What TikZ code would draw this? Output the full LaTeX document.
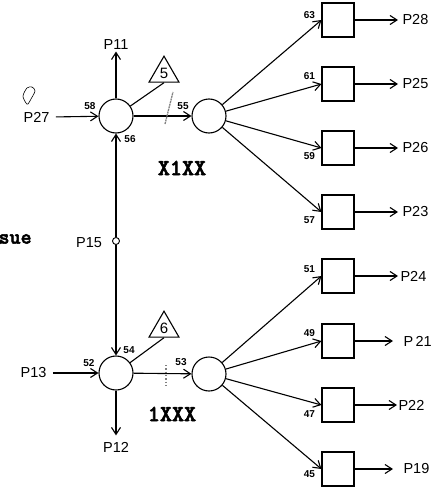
\documentclass[tikz,border=0pt]{standalone}
\usepackage{fontspec}
\setsansfont{Liberation Sans}
\newfontfamily\codefont[FakeBold=2.5]{lmmonolt10-bold.otf}
\usetikzlibrary{shapes.geometric, arrows.meta, positioning, calc}

\begin{document}
\begin{tikzpicture}[x=1pt, y=-1pt, font=\sffamily, line width=1.1pt,
    >={Straight Barb[length=7pt, width=9pt]},
    hub/.style={draw, circle, minimum size=34pt, inner sep=0pt},
    tank/.style={draw, rectangle, minimum width=32pt, minimum height=34pt, inner sep=0pt},
    flag/.style={draw, regular polygon, regular polygon sides=3, minimum size=34.6pt, inner sep=0pt, font=\sffamily\fontsize{15}{15}\selectfont},
    num/.style={font=\sffamily\fontsize{10}{10}\selectfont\bfseries, inner sep=0pt},
    plab/.style={font=\sffamily\fontsize{14.5}{14.5}\selectfont, inner sep=1pt},
    code/.style={font=\codefont\fontsize{23}{23}\selectfont, inner sep=0pt}]

    \useasboundingbox (0,0) rectangle (434,487);

    % Hubs
    \node[hub] (hA) at (116,116) {};
    \node[hub] (hB) at (209,116) {};
    \node[hub] (hC) at (116,373) {};
    \node[hub] (hD) at (209,374) {};

    % Flags
    \node[flag] (f5) at (164,73.5) {5};
    \node[flag] (f6) at (164,328.5) {6};
    \draw (hA) -- (f5.south);
    \draw (hC) -- (f6.south);

    % Upper group (X1XX)
    \node[plab] (p11) at (116,45) {P11};
    \node[plab] (p27) at (36.5,117) {P27};
    \draw[->] (hA) -- (p11.south);
    \draw[->, shorten <=5pt] (p27.east) -- (hA);
    \draw[->] (hA) -- (hB);
    \draw[gray, line width=1.3pt, dash pattern=on 2pt off 0.7pt] (165,124) -- (173,92);
    \node[num] at (90,106) {58};
    \node[num] at (130,139) {56};
    \node[num] at (183,106) {55};
    \node[code] at (182,168) {X1XX};
    \draw[line width=0.6pt] plot[smooth cycle] coordinates {(26,103) (23,96) (27,88) (32,87) (35,91) (31,99) (28,104)};

    \foreach \i/\y/\n/\d/\p/\lx/\sh in {1/20/63/-5/P28/401/3, 2/84/61/-8/P25/401/3, 3/148/59/8/P26/401/3, 4/212/57/8/P23/401/3}{
        \node[tank] (u\i) at (338,\y) {};
        \node[num, anchor=east] (un\i) at ($(u\i.west)+(-6,\d)$) {\n};
        \node[plab, anchor=west] (up\i) at (\lx,\y) {\p};
        \draw[->] (hB) -- (u\i.west);
        \draw[->, shorten >=\sh pt] (u\i.east) -- (up\i.west);
    }

    % Link between groups
    \node[plab] (p15) at (89,243) {P15};
    \node[draw, circle, minimum size=7pt, inner sep=0pt, fill=white, line width=0.9pt] (jn) at (116,241) {};
    \draw[->] (jn) -- (hA);
    \draw[->] (jn) -- (hC);
    \node[code, font=\codefont\fontsize{21}{21}\selectfont, anchor=west] at (-2,239) {sue};

    % Lower group (1XXX)
    \node[plab] (p13) at (33.5,373) {P13};
    \node[plab] (p12) at (116,447) {P12};
    \draw[->, shorten <=5pt] (p13.east) -- (hC);
    \draw[->, shorten >=5pt] (hC) -- (p12.north);
    \draw[->] (hC) -- (hD);
    \draw[gray, line width=1.3pt, dotted] (166,365) -- (166,387);
    \node[num] at (129,350) {54};
    \node[num] at (89,363) {52};
    \node[num] at (181,362) {53};
    \node[code] at (172,414) {1XXX};

    \foreach \i/\y/\n/\d/\p/\lx/\sh in {1/276/51/-7/P24/399/1, 2/341/49/-8/P\,21/402/9, 3/405/47/9/P22/397/0, 4/469/45/5/P19/402/9}{
        \node[tank] (l\i) at (338,\y) {};
        \node[num, anchor=east] (ln\i) at ($(l\i.west)+(-6,\d)$) {\n};
        \node[plab, anchor=west] (lp\i) at (\lx,\y) {\p};
        \draw[->] (hD) -- (l\i.west);
        \draw[->, shorten >=\sh pt] (l\i.east) -- (lp\i.west);
    }

\end{tikzpicture}
\end{document}
